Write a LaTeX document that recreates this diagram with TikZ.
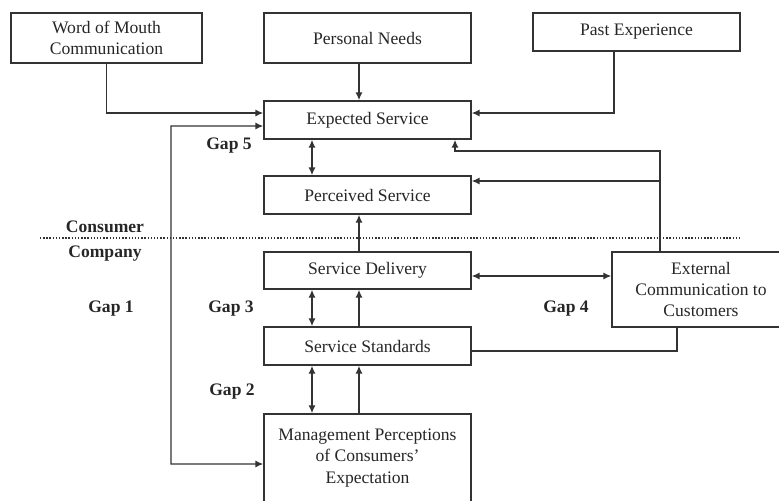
\documentclass[tikz,border=0pt]{standalone}
\usepackage{fontspec}
\setmainfont{Liberation Serif}
\usepackage{tikz}
\usetikzlibrary{arrows.meta}

\begin{document}
\begin{tikzpicture}[x=0.02cm, y=-0.02cm, line width=0.8pt, draw=black!80, text=black!85,
		>={Latex[length=4.5pt, width=4pt]},
		box/.style = {draw, rectangle, align=center, inner sep=2pt, minimum width=4.14cm, minimum height=0.76cm},
		gap/.style = {font=\bfseries}]
			\clip (0,0) rectangle (779,501);
			
			\coordinate (c0) at (171,464);
			\coordinate (c1) at (312,0);
			\coordinate (c2) at (359,0);
			
			\node [box, minimum width=3.82cm, minimum height=1cm] (wom) at (106.5,38) {Word of Mouth\\Communication};
			\node [box, minimum height=1cm] (needs) at (367.5,38) {Personal Needs};
			\node [box] (past) at (636.5,32) {Past Experience};
			\node [box] (expected) at (367.5,120) {Expected Service};
			\node [box] (perceived) at (367.5,195) {Perceived Service};
			\node [box, minimum height=0.74cm] (delivery) at (367.5,270.5) {Service Delivery};
			\node [box] (standards) at (367.5,346) {Service Standards};
			\node [box, minimum height=1.76cm] (mgmt) at (367.5,458) {Management Perceptions\\of Consumers'\\Expectation};
			\node [box, minimum width=3.56cm, minimum height=1.5cm] (external) at (701,289.5) {External\\Communication to\\Customers};
			
			\draw [densely dotted] (40,238) -- (740,238);
			\node [gap] (consumer) at (105,227) {Consumer};
			\node [gap] (company) at (105,254) {Company};
			
			\begin{scope}[->]
			\draw (wom.south) |- ([yshift=0.14cm]expected.west);
			\draw (needs.south -| c2) -- (expected.north -| c2);
			\draw ([xshift=-0.45cm]past.south) |- ([yshift=0.14cm]expected.east);
			\draw (delivery.north -| c2) -- (perceived.south -| c2);
			\draw (standards.north -| c2) -- (delivery.south -| c2);
			\draw (mgmt.north -| c2) -- (standards.south -| c2);
			\end{scope}
			
			\coordinate (k) at (455,151);
			\coordinate (br) at (660,181);
			\draw [->] ([xshift=-0.82cm]external.north) |- (k) -- (expected.south -| k);
			\draw [->] (br) -- (br -| perceived.east);
			\draw ([yshift=-0.1cm]standards.east) -| ([xshift=-0.48cm]external.south);
			
			\begin{scope}[<->]
			\coordinate (gin) at ([yshift=-0.12cm]expected.west);
			\coordinate (gout) at ([yshift=-0.12cm]mgmt.west);
			\draw (gin) -| (c0) -- (gout);
			\draw (expected.south -| c1) -- (perceived.north -| c1);
			\draw (delivery.south -| c1) -- (standards.north -| c1);
			\draw (standards.south -| c1) -- (mgmt.north -| c1);
			\coordinate (g4) at ([yshift=-0.11cm]delivery.east);
			\draw (g4) -- (g4 -| external.west);
			\end{scope}
			
			\node [gap] (gap5) at (229,146) {Gap 5};
			\node [gap] (gap1) at (111,309) {Gap 1};
			\node [gap] (gap3) at (231,309) {Gap 3};
			\node [gap] (gap2) at (232,392) {Gap 2};
			\node [gap] (gap4) at (566,309) {Gap 4};
		\end{tikzpicture}
\end{document}
